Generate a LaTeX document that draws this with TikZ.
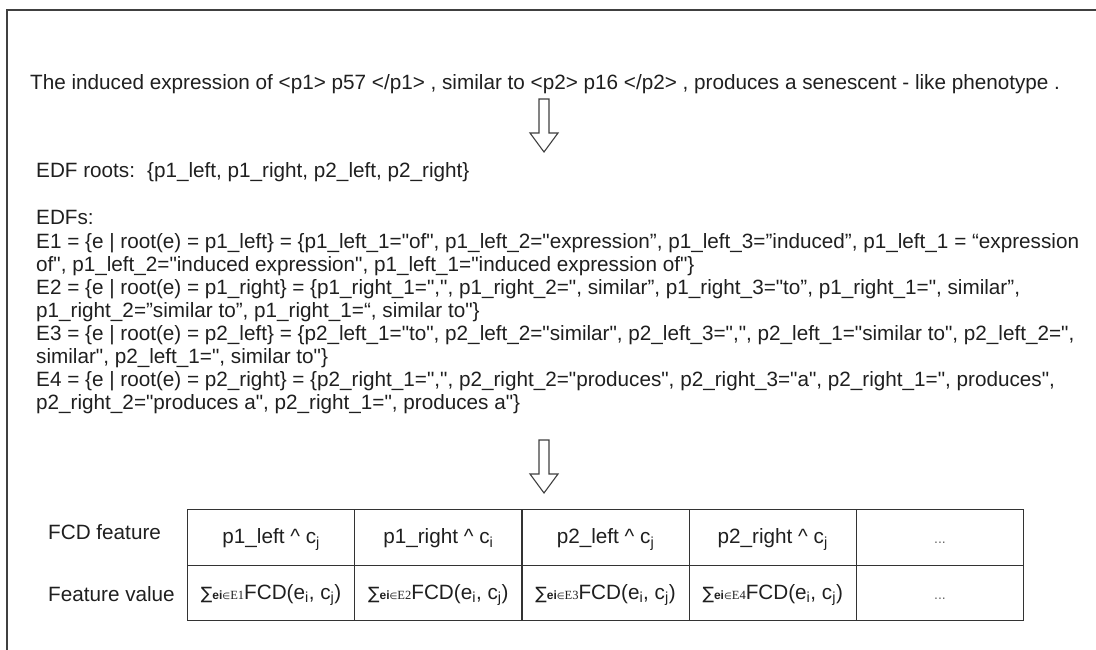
\documentclass[tikz,border=0pt]{standalone}
\usepackage{fontspec}
\newfontfamily\arfont{Liberation Sans}
\newfontfamily\tmfont{Liberation Serif}
\newfontfamily\djfont{DejaVu Sans}
\newcommand{\bodyfont}{\arfont\fontsize{20.7}{23.5}\selectfont}
\newcommand{\sumsub}[1]{{\djfont\fontsize{17}{17}\selectfont ∑}{\arfont\fontsize{12}{12}\selectfont\bfseries ei}{\djfont\fontsize{9}{9}\selectfont ∈}{\tmfont\fontsize{12.5}{12.5}\selectfont E#1}FCD(e\textsubscript{i}, c\textsubscript{j})}
\begin{document}
\begin{tikzpicture}[x=1pt,y=-1pt,
  txt/.style={anchor=base west, inner sep=0pt, font=\bodyfont, text=black!88},
  cell/.style={draw=black!80, line width=1.1pt, minimum width=167.2pt, minimum height=55.5pt,
    inner sep=0pt, anchor=north west, font=\bodyfont, text=black!88, text height=15pt, text depth=2pt},
  dots/.style={cell, font=\arfont\fontsize{14}{14}\selectfont, text=black!60},
  blockarrow/.style={draw=black!75, line width=1.1pt, fill=white, line join=miter},
  frame/.style={draw=black!75, line width=2pt}]
\useasboundingbox (0,0) rectangle (1096,650);
% frame
\draw[frame] (7,650) -- (7,10) -- (1096,10);
% sentence
\node[txt] (sent) at (30,90) {The induced expression of <p1> p57 </p1> , similar to <p2> p16 </p2> , produces a senescent - like phenotype .};
% arrow 1
\draw[blockarrow] (539,99) -- (549,99) -- (549,133) -- (558,133) -- (544,152) -- (530,133) -- (539,133) -- cycle;
% EDF roots
\node[txt] (roots) at (36,178) {EDF roots:\hspace{12pt}\{p1\_left, p1\_right, p2\_left, p2\_right\}};
\node[txt] (edfs) at (36,225) {EDFs:};
\node[txt] (e1a) at (36,248) {E1 = \{e | root(e) = p1\_left\} = \{p1\_left\_1="of", p1\_left\_2="expression”, p1\_left\_3=”induced”, p1\_left\_1 = “expression};
\node[txt] (e1b) at (36,271) {of", p1\_left\_2="induced expression", p1\_left\_1="induced expression of"\}};
\node[txt] (e2a) at (36,294) {E2 = \{e | root(e) = p1\_right\} = \{p1\_right\_1=",", p1\_right\_2=", similar”, p1\_right\_3="to”, p1\_right\_1=", similar”,};
\node[txt] (e2b) at (36,317) {p1\_right\_2=”similar to”, p1\_right\_1=“, similar to"\}};
\node[txt] (e3a) at (36,340) {E3 = \{e | root(e) = p2\_left\} = \{p2\_left\_1="to", p2\_left\_2="similar", p2\_left\_3=",", p2\_left\_1="similar to", p2\_left\_2=",};
\node[txt] (e3b) at (36,363) {similar", p2\_left\_1=", similar to"\}};
\node[txt] (e4a) at (36,386) {E4 = \{e | root(e) = p2\_right\} = \{p2\_right\_1=",", p2\_right\_2="produces", p2\_right\_3="a", p2\_right\_1=", produces",};
\node[txt] (e4b) at (36,409) {p2\_right\_2="produces a", p2\_right\_1=", produces a"\}};
% arrow 2
\draw[blockarrow] (539,440) -- (549,440) -- (549,474) -- (558,474) -- (544,493) -- (530,474) -- (539,474) -- cycle;
% row labels
\node[txt] (lab1) at (48,539) {FCD feature};
\node[txt] (lab2) at (48,601) {Feature value};
% table
\node[cell] (a1) at (187,509) {p1\_left \textasciicircum{} c\textsubscript{j}};
\node[cell] (b1) at (354.2,509) {p1\_right \textasciicircum{} c\textsubscript{i}};
\node[cell] (c1) at (521.4,509) {p2\_left \textasciicircum{} c\textsubscript{j}};
\node[cell] (d1) at (688.6,509) {p2\_right \textasciicircum{} c\textsubscript{j}};
\node[dots] (f1) at (855.8,509) {...};
\node[cell] (a2) at (187,564.5) {\sumsub{1}};
\node[cell] (b2) at (354.2,564.5) {\sumsub{2}};
\node[cell] (c2) at (521.4,564.5) {\sumsub{3}};
\node[cell] (d2) at (688.6,564.5) {\sumsub{4}};
\node[dots] (f2) at (855.8,564.5) {...};
\end{tikzpicture}
\end{document}
